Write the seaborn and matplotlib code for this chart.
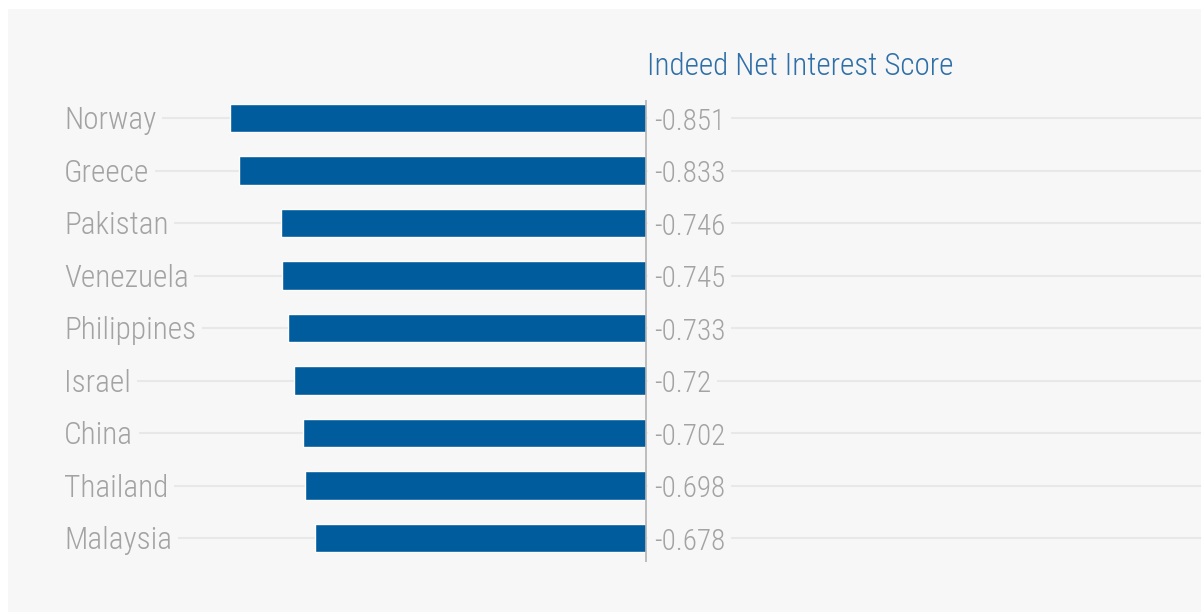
import matplotlib
matplotlib.use("Agg")
import matplotlib.pyplot as plt
from matplotlib.patches import Rectangle
from matplotlib import font_manager
import seaborn as sns

countries = ["Norway", "Greece", "Pakistan", "Venezuela", "Philippines",
             "Israel", "China", "Thailand", "Malaysia"]
scores = [-0.851, -0.833, -0.746, -0.745, -0.733, -0.72, -0.702, -0.698, -0.678]
score_labels = ["-0.851", "-0.833", "-0.746", "-0.745", "-0.733",
                "-0.72", "-0.702", "-0.698", "-0.678"]
title = "Indeed Net Interest Score"

BG = "#f7f7f7"
BAR = "#005c9c"
TXT = "#a3a3a3"
TITLE_C = "#2f6fa8"
GRID = "#e8e8e8"

sns.set_theme(style="white")
names = {f.name for f in font_manager.fontManager.ttflist}
narrow = next((n for n in ["Roboto Condensed", "Liberation Sans Narrow",
                           "Archivo Narrow", "Barlow Semi Condensed"] if n in names),
              "DejaVu Sans")
plt.rcParams["font.family"] = [narrow, "DejaVu Sans"]
plt.rcParams["font.weight"] = "light"

W, H = 1201, 612
fig = plt.figure(figsize=(W / 100, H / 100), dpi=100, facecolor="white")
fig.patches.append(Rectangle((8 / W, 0), 1, 1 - 9 / H, transform=fig.transFigure,
                             facecolor=BG, edgecolor="none", zorder=-10))

ax = fig.add_axes([8 / W, 1 - 562 / H, 1193 / W, 462 / H])
ax.set_facecolor("none")

sns.barplot(x=scores, y=countries, orient="h", color=BAR, width=0.55,
            saturation=1, ax=ax, zorder=3)

px = 488.8  # pixels per unit on x
x_left = -(646 - 8) / px
x_right = (1201 - 646) / px
ax.set_xlim(x_left, x_right)
ax.set_ylim(len(countries) - 1 + 24 / 52.5, -18 / 52.5)

label_x = -(646 - 64) / px
ax.hlines(range(len(countries)), label_x, x_right, color=GRID, lw=1.5, zorder=1)
ax.axvline(0, color="#b3b3b3", lw=1.2, zorder=4)

for i, (c, lab) in enumerate(zip(countries, score_labels)):
    ax.text(label_x, i + 0.21, c, ha="left", va="baseline", fontsize=22.5,
            color=TXT, zorder=5,
            bbox=dict(facecolor=BG, edgecolor="none", pad=4))
    ax.text(8 / px, i + 0.22, lab, ha="left", va="baseline", fontsize=21,
            color=TXT, zorder=5,
            bbox=dict(facecolor=BG, edgecolor="none", pad=4))

fig.text(647 / W, 1 - 75 / H, title, ha="left", va="baseline", fontsize=22.4,
         color=TITLE_C)

ax.set_xticks([])
ax.set_yticks([])
ax.set_xlabel("")
ax.set_ylabel("")
for s in ax.spines.values():
    s.set_visible(False)

fig.savefig("out.png", dpi=100, facecolor="white")
